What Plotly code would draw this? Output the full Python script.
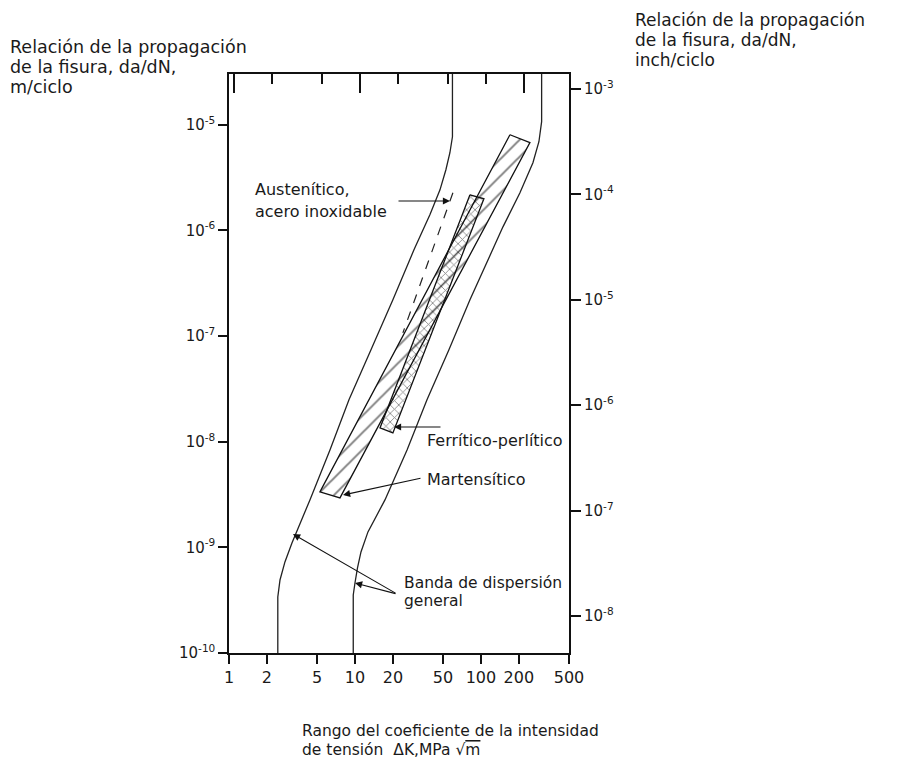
import math
import plotly.graph_objects as go

# ---------------- data ----------------
# Scatter band, left boundary (dK in MPa*sqrt(m), da/dN in m/cycle)
band_left_dk = [2.44, 2.44, 2.54, 2.78, 3.16, 4.39, 6.33, 8.96, 13.4, 20.0, 29.4, 39.4, 47.3, 52.7, 56.7, 59.4, 59.4]
band_left_dadn = [1e-10, 3.39e-10, 4.91e-10, 7.28e-10, 1.10e-9, 2.81e-9, 8.35e-9, 2.49e-8, 7.40e-8,
                  2.20e-7, 6.55e-7, 1.41e-6, 2.42e-6, 3.75e-6, 5.43e-6, 7.69e-6, 3.02e-5]
# Scatter band, right boundary
band_right_dk = [9.69, 9.69, 10.0, 10.47, 11.16, 12.68, 17.3, 25.9, 37.3, 55.7, 81.8, 111.6, 149.5, 204, 258.6, 288.5, 303.2, 303.2]
band_right_dadn = [1e-10, 3.54e-10, 4.60e-10, 6.38e-10, 9.04e-10, 1.40e-9, 2.81e-9, 8.35e-9, 2.49e-8,
                   7.40e-8, 2.20e-7, 5.05e-7, 1.08e-6, 2.27e-6, 4.37e-6, 6.90e-6, 1.07e-5, 3.02e-5]
# Austenitic stainless steel (dashed)
aust_dk = [59.9, 24.0]
aust_dadn = [2.27e-6, 1.07e-7]
# Martensitic band (polygon)
mart_dk = [169.9, 244.8, 7.60, 5.27, 169.9]
mart_dadn = [8.04e-6, 6.76e-6, 2.94e-9, 3.35e-9, 8.04e-6]
# Ferritic-pearlitic band (polygon)
ferr_dk = [81.8, 105.6, 20.0, 15.8, 81.8]
ferr_dadn = [2.17e-6, 1.99e-6, 1.21e-8, 1.35e-8, 2.17e-6]

x_ticks = [1, 2, 5, 10, 20, 50, 100, 200, 500]
y_ticks_m = [1e-10, 1e-9, 1e-8, 1e-7, 1e-6, 1e-5]
y_ticks_in = [1e-8, 1e-7, 1e-6, 1e-5, 1e-4, 1e-3]
top_major = [1, 10, 200]
top_minor = [2, 5, 20, 50, 100]

# ---------------- layout geometry ----------------
W, H = 902, 761
L, R, T, B = 229, 569, 74, 653
XR = [0, math.log10(500)]
YR = [-10, -4.52]
KSI = 1.0988  # MPa*sqrt(m) per ksi*sqrt(in)

FONT = "DejaVu Sans"
TXT = "#1a1a1a"


def px(xp):
    return (xp - L) / (R - L)


def py(yp):
    return (B - yp) / (B - T)


def sup(v):
    return "10<sup>%d</sup>" % round(math.log10(v))


fig = go.Figure()

fig.add_trace(go.Scatter(x=mart_dk, y=mart_dadn, mode="lines", fill="toself",
                         fillcolor="white",
                         fillpattern=dict(shape="/", fgcolor="#000", bgcolor="white", size=12, solidity=0.16),
                         line=dict(color="#111", width=1.3), hoverinfo="skip", showlegend=False))
fig.add_trace(go.Scatter(x=ferr_dk, y=ferr_dadn, mode="lines", fill="toself",
                         fillcolor="rgba(255,255,255,0)",
                         fillpattern=dict(shape="x", fgcolor="#000", bgcolor="rgba(255,255,255,0)", size=6, solidity=0.25),
                         line=dict(color="#111", width=1.3), hoverinfo="skip", showlegend=False))
fig.add_trace(go.Scatter(x=band_left_dk, y=band_left_dadn, mode="lines",
                         line=dict(color="#222", width=1.3), hoverinfo="skip", showlegend=False))
fig.add_trace(go.Scatter(x=band_right_dk, y=band_right_dadn, mode="lines",
                         line=dict(color="#222", width=1.3), hoverinfo="skip", showlegend=False))
fig.add_trace(go.Scatter(x=aust_dk, y=aust_dadn, mode="lines",
                         line=dict(color="#222", width=1.2, dash="dash"), hoverinfo="skip", showlegend=False))
# empty traces to register secondary axes
fig.add_trace(go.Scatter(x=[], y=[], xaxis="x2", yaxis="y", showlegend=False))
fig.add_trace(go.Scatter(x=[], y=[], xaxis="x", yaxis="y2", showlegend=False))

ann = []


def text(xp, yp, s, size=16):
    ann.append(dict(xref="paper", yref="paper", x=px(xp), y=py(yp), xanchor="left", yanchor="middle",
                    text=s, showarrow=False, font=dict(family=FONT, size=size, color=TXT)))


def arrow(hx, hy, tx, ty):
    ann.append(dict(xref="paper", yref="paper", x=px(hx), y=py(hy), ax=tx - hx, ay=ty - hy,
                    text="", showarrow=True, arrowhead=2, arrowsize=1.3, arrowwidth=1.1,
                    arrowcolor="#111", standoff=0, startstandoff=0))


text(253, 189, "Austenítico,")
text(253, 212, "acero inoxidable")
text(425, 440, "Ferrítico-perlítico")
text(425, 479, "Martensítico")
text(402, 583, "Banda de dispersión", 15.5)
text(402, 601, "general", 15.5)

arrow(450, 201, 397, 201)
arrow(394, 427, 442, 427)
arrow(343, 495, 422, 478)
arrow(293, 534, 397, 594)
arrow(355, 583, 397, 594)

# axis titles
text(8, 47, "Relación de la propagación", 17.5)
text(8, 67, "de la fisura, da/dN,", 17.5)
text(8, 87, "m/ciclo", 17.5)
text(633, 20, "Relación de la propagación", 17)
text(633, 40, "de la fisura, da/dN,", 17)
text(633, 60, "inch/ciclo", 17)
text(300, 731, "Rango del coeficiente de la intensidad", 15.5)
text(300, 750, "de tensión  ΔK,MPa √<span style='text-decoration:overline'>m</span>", 15.5)

axis_common = dict(showgrid=False, zeroline=False, tickcolor="#111", tickwidth=1.5)

fig.update_layout(
    width=W, height=H, autosize=False,
    margin=dict(l=L, r=W - R, t=T, b=H - B, pad=0),
    paper_bgcolor="white", plot_bgcolor="white",
    showlegend=False,
    annotations=ann,
    xaxis=dict(type="log", range=XR, tickmode="array", tickvals=x_ticks,
               ticktext=[str(v) for v in x_ticks], ticks="outside", ticklen=9,
               showline=True, linecolor="#111", linewidth=1.5, mirror=True,
               tickfont=dict(family=FONT, size=16, color=TXT), **axis_common),
    xaxis2=dict(type="log", overlaying="x", side="top", anchor="y",
                range=[XR[0] - math.log10(KSI), XR[1] - math.log10(KSI)],
                tickmode="array", tickvals=top_major, ticks="inside", ticklen=19,
                minor=dict(tickmode="array", tickvals=top_minor, ticks="inside", ticklen=10,
                           tickcolor="#111", tickwidth=1.5),
                showticklabels=False, showline=False, **axis_common),
    yaxis=dict(type="log", range=YR, tickmode="array", tickvals=y_ticks_m,
               ticktext=[sup(v) for v in y_ticks_m], ticks="outside", ticklen=9,
               showline=True, linecolor="#111", linewidth=1.5, mirror=True,
               tickfont=dict(family=FONT, size=15, color=TXT), **axis_common),
    yaxis2=dict(type="log", overlaying="y", side="right", anchor="x",
                range=[-8.351, -2.858], tickmode="array", tickvals=y_ticks_in,
                ticktext=[sup(v) for v in y_ticks_in], ticks="outside", ticklen=11,
                showline=False, tickfont=dict(family=FONT, size=15, color=TXT), **axis_common),
)

fig.write_html("out.html")
